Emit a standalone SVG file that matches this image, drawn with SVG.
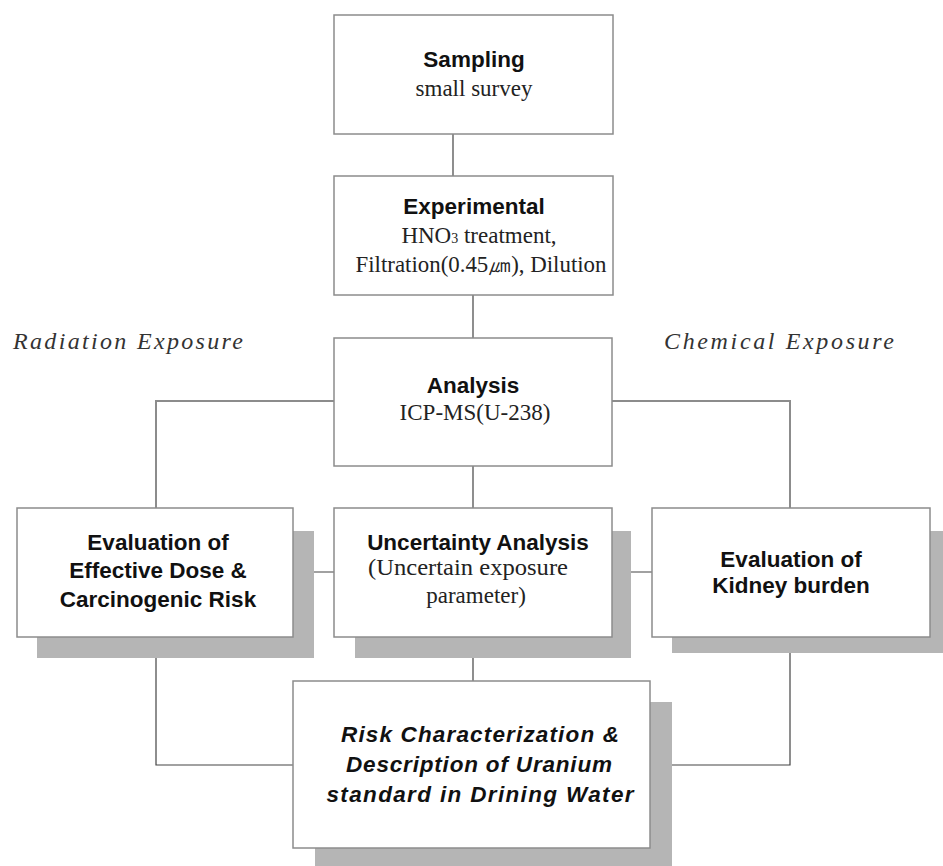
<svg xmlns="http://www.w3.org/2000/svg" width="943" height="866" viewBox="0 0 943 866">
<style>
.box{fill:#fff;stroke:#8c8c8c;stroke-width:1.5}
.shadow{fill:#b5b5b5}
.conn{stroke:#444;stroke-width:1.2;fill:none}
.conng{stroke:#8c8c8c;stroke-width:2;fill:none}
.h{font-family:"Liberation Sans",Arial,sans-serif;font-weight:bold;font-size:22.5px;fill:#111;text-anchor:middle}
.s{font-family:"Liberation Serif","Times New Roman",serif;font-size:23px;fill:#222;text-anchor:middle}
.side{font-family:"Liberation Serif","Times New Roman",serif;font-style:italic;font-size:24px;fill:#333}
.bi{font-family:"Liberation Sans",Arial,sans-serif;font-weight:bold;font-style:italic;font-size:22.5px;fill:#111;text-anchor:middle}
</style>
<rect width="943" height="866" fill="#fff"/>
<text class="side" x="13" y="349" textLength="230" lengthAdjust="spacing">Radiation Exposure</text>
<text class="side" x="664" y="349" textLength="230" lengthAdjust="spacing">Chemical Exposure</text>
<g id="connectors">
<line class="conn" x1="453" y1="134" x2="453" y2="176"/>
<line class="conn" x1="473" y1="295" x2="473" y2="338"/>
<polyline class="conng" points="334,401 156,401 156,508"/>
<polyline class="conng" points="612,401 790,401 790,508"/>
<line class="conn" x1="473" y1="466" x2="473" y2="508"/>
<line class="conn" x1="293" y1="572" x2="334" y2="572"/>
<line class="conn" x1="612" y1="572" x2="652" y2="572"/>
<polyline class="conn" points="156,637 156,765 293,765"/>
<polyline class="conn" points="790,637 790,765 650,765"/>
<line class="conn" x1="473" y1="637" x2="473" y2="681"/>
</g>
<g id="sampling">
<rect class="box" x="334" y="15" width="279" height="119"/>
<text class="h" x="474" y="67">Sampling</text>
<text class="s" x="474" y="96">small survey</text>
</g>
<g id="experimental">
<rect class="box" x="334" y="176" width="279" height="119"/>
<text class="h" x="474" y="214">Experimental</text>
<text class="s" x="479" y="243">HNO<tspan font-size="14">3</tspan>  treatment,</text>
<text class="s" x="481" y="272" textLength="251" lengthAdjust="spacingAndGlyphs">Filtration(0.45㎛), Dilution</text>
</g>
<g id="analysis">
<rect class="box" x="334" y="338" width="278" height="128"/>
<text class="h" x="473" y="393">Analysis</text>
<text class="s" x="475" y="420">ICP-MS(U-238)</text>
</g>
<g id="eval-dose">
<rect class="shadow" x="37" y="531" width="277" height="127"/>
<rect class="box" x="17" y="508" width="276" height="129"/>
<text class="h" x="158" y="550">Evaluation of</text>
<text class="h" x="158" y="578">Effective Dose &amp;</text>
<text class="h" x="158" y="607">Carcinogenic Risk</text>
</g>
<g id="uncertainty">
<rect class="shadow" x="355" y="531" width="276" height="127"/>
<rect class="box" x="334" y="508" width="278" height="129"/>
<text class="h" x="478" y="550">Uncertainty Analysis</text>
<text class="s" x="468" y="575" textLength="200" lengthAdjust="spacingAndGlyphs">(Uncertain exposure</text>
<text class="s" x="476" y="603">parameter)</text>
</g>
<g id="kidney">
<rect class="shadow" x="672" y="531" width="275" height="122"/>
<rect class="box" x="652" y="508" width="278" height="129"/>
<text class="h" x="791" y="567">Evaluation of</text>
<text class="h" x="791" y="593">Kidney burden</text>
</g>
<g id="risk">
<rect class="shadow" x="315" y="702" width="357" height="170"/>
<rect class="box" x="293" y="681" width="357" height="167"/>
<text class="bi" x="480" y="742" textLength="278" lengthAdjust="spacing">Risk Characterization &amp;</text>
<text class="bi" x="479" y="772" textLength="266" lengthAdjust="spacing">Description of Uranium</text>
<text class="bi" x="480" y="802" textLength="307" lengthAdjust="spacing">standard in Drining Water</text>
</g>
</svg>
